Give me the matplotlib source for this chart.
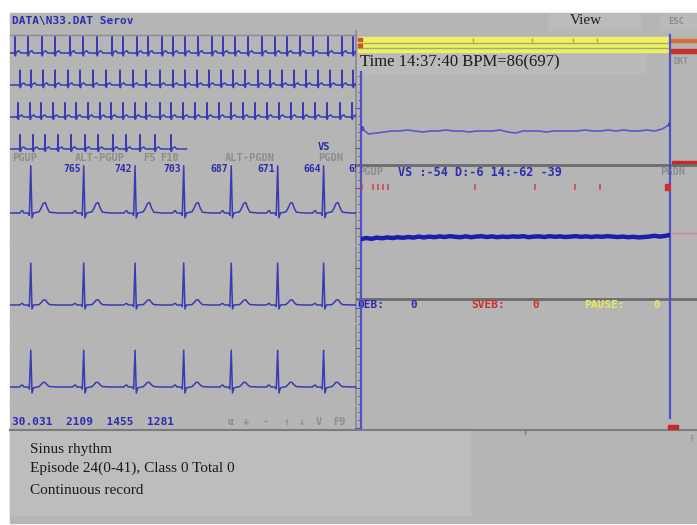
import matplotlib
matplotlib.use("Agg")
import matplotlib.pyplot as plt
from matplotlib.patches import Rectangle
from matplotlib.ticker import MultipleLocator
import numpy as np

# ---- Data -------------------------------------------------------------
# Overview strips: R-peak times (s) in each 20 s row
overview_rows = [
    [0.29, 1.04, 1.85, 2.60, 3.47, 4.22, 5.03, 5.90, 6.53, 7.34, 7.98, 8.79, 9.42,
     10.12, 10.87, 11.68, 12.31, 13.01, 13.76, 14.57, 15.32, 16.01, 16.76, 17.51,
     18.38, 19.19, 19.83],
    [0.58, 1.21, 1.91, 2.60, 3.35, 4.05, 4.80, 5.55, 6.36, 7.11, 7.86, 8.67, 9.42,
     10.12, 10.81, 11.50, 12.20, 12.89, 13.58, 14.34, 15.03, 15.72, 16.42, 17.11,
     17.80, 18.50, 19.19, 19.83],
    [0.46, 1.16, 1.79, 2.49, 3.18, 3.82, 4.51, 5.20, 5.84, 6.53, 7.23, 7.86, 8.67,
     9.31, 10.00, 10.69, 11.39, 12.08, 12.77, 13.47, 14.16, 14.86, 15.55, 16.24,
     16.94, 17.63, 18.32, 19.08, 19.77],
    [0.58, 1.33, 2.02, 2.77, 3.53, 4.34, 5.09, 5.95, 6.71, 7.51, 8.38, 9.31],
]
overview_row_end = [20.0, 20.0, 20.0, 10.2]
overview_amp = [1.25, 1.15, 1.10, 1.10]
overview_tmpl_t = [-0.25, -0.05, -0.02, 0.0, 0.02, 0.05, 0.15, 0.22, 0.30, 0.35]
overview_tmpl_v = [0.0, 0.0, -0.08, 1.0, -0.18, 0.0, 0.10, 0.14, 0.03, 0.0]

# Expanded leads: RR intervals (ms) printed above the beats
first_r_ms = 300
rr_ms = [765, 742, 703, 687, 671, 664, 659]
beat_tmpl_t = [-240, -160, -140, -120, -100, -40, -20, 0, 18, 40, 120, 150, 180, 210, 240, 270, 390]
lead_templates = [
    [0, 0, 0.04, 0.06, 0.0, 0, -0.06, 1.18, -0.12, 0, 0.03, 0.12, 0.24, 0.26, 0.12, 0.02, 0],
    [0, 0, 0.03, 0.04, 0.0, 0, -0.04, 1.05, -0.10, 0, 0.01, 0.06, 0.12, 0.13, 0.06, 0.01, 0],
    [0, 0, 0.04, 0.05, 0.0, 0, -0.05, 0.92, -0.15, -0.02, 0.01, 0.06, 0.12, 0.11, 0.05, 0.01, 0],
]
lead_baselines = [-1.25, -3.55, -5.60]

# Episode trends
hr_trend = [89, 83, 84, 85, 86, 86, 87, 86, 85, 86, 86, 87, 86, 86, 85, 86, 86, 86, 87, 85,
            84, 86, 86, 86, 85, 86, 86, 86, 86, 87, 86, 86, 87, 86, 87, 86, 86, 87, 86, 88, 93]
st_trend = [-0.10, -0.05, -0.09, -0.03, -0.06, -0.02, -0.05, -0.01, -0.04, 0.00, -0.03, 0.02,
            -0.02, 0.02, -0.01, 0.03, 0.00, 0.04, 0.01, -0.01, 0.03, -0.01, 0.02, 0.04, 0.00,
            0.03, -0.01, 0.02, 0.00, 0.03, 0.01, 0.04, -0.01, 0.02, 0.03, 0.00, 0.04, 0.01,
            0.03, 0.00, 0.02, 0.04, 0.01, 0.03, 0.00, 0.03, 0.01, 0.04, 0.02, 0.00, 0.02,
            -0.01, 0.01, -0.02, 0.00, 0.02, 0.06, 0.02, 0.05, 0.10]
event_marks = [0.13, 1.55, 2.2, 2.85, 3.5, 14.8, 22.5, 27.7, 30.9]
episode_len = 40

# ---- Style ------------------------------------------------------------
W, H = 697, 525
BG = "#b5b5b5"
BG_LIGHT = "#bdbdbd"
ECG_BLUE = "#3a3ab6"
TXT_BLUE = "#2c2cae"
TXT_GRAY = "#8d8d8d"
SEP = "#6c6c6c"
MONO = "DejaVu Sans Mono"
SERIF = "Liberation Serif"

fig = plt.figure(figsize=(W / 100, H / 100), dpi=100, facecolor="white")


def px_axes(x0, y0, x1, y1):
    ax = fig.add_axes([x0 / W, 1 - y1 / H, (x1 - x0) / W, (y1 - y0) / H])
    ax.set_facecolor("none")
    return ax


def beat_trace(r_times, tmpl_t, tmpl_v, amp, t_end):
    xs, ys = [0.0], [0.0]
    for r in r_times:
        xs.extend(r + np.asarray(tmpl_t))
        ys.extend(amp * np.asarray(tmpl_v))
    xs.append(t_end)
    ys.append(0.0)
    return np.array(xs), np.array(ys)


# ---- Screen frame (pixel coordinates) ---------------------------------
scr = px_axes(0, 0, W, H)
scr.set_xlim(0, W)
scr.set_ylim(H, 0)
scr.axis("off")

scr.add_patch(Rectangle((10, 13), W - 10, 510, color=BG, zorder=0))
scr.add_patch(Rectangle((548, 14), 92, 16, color="#bbbbbb", zorder=0))
scr.add_patch(Rectangle((660, 14), 37, 16, color="#bababa", zorder=0))
scr.add_patch(Rectangle((357, 53), 288, 20, color="#bababa", zorder=0))
scr.add_patch(Rectangle((10, 431), 460, 84, color=BG_LIGHT, zorder=0))

# separators
scr.plot([10, 356], [35, 35], color="#8c8c8c", lw=1)
scr.plot([356, 356], [31, 429], color="#8a8a8a", lw=1.2)
scr.plot([357, W], [165, 165], color=SEP, lw=2)
scr.plot([357, W], [299, 299], color=SEP, lw=2)
scr.plot([10, W], [429.5, 429.5], color="#7c7c7c", lw=1.5)
scr.plot([525, 525], [430, 434], color="#7c7c7c", lw=1)

# yellow episode band
scr.add_patch(Rectangle((358, 37), 310, 15, color="#eef060", zorder=1))
scr.plot([358, 668], [43, 43], color="#a8a878", lw=1, zorder=2)
scr.plot([358, 668], [47.5, 47.5], color="#a8a878", lw=1, zorder=2)
scr.add_patch(Rectangle((358, 38), 4, 3, color="#d05030", zorder=3))
scr.add_patch(Rectangle((358, 44), 4, 3, color="#d05030", zorder=3))
scr.add_patch(Rectangle((671, 39), 26, 3, color="#d47038", zorder=1))
scr.add_patch(Rectangle((671, 49), 26, 4, color="#c83030", zorder=1))
scr.add_patch(Rectangle((672, 161), 25, 4, color="#c82828", zorder=1))
scr.add_patch(Rectangle((668, 425), 10, 4, color="#c82828", zorder=3))
scr.plot([672, W], [233, 233], color="#d0809a", lw=1)

# cursor line
scr.plot([670, 670], [35, 418], color="#5050c8", lw=1.6, zorder=4)

# ---- Header and key texts ---------------------------------------------
scr.text(12, 21, "DATA\\N33.DAT Serov", color=TXT_BLUE, fontsize=8, family=MONO,
         weight="bold", va="center")
scr.text(570, 21, "View", color="#1e1e1e", fontsize=11, family=SERIF, va="center")
scr.text(668, 21, "ESC", color=TXT_GRAY, fontsize=6.5, family=MONO, weight="bold", va="center")
scr.text(673, 62, "DKT", color=TXT_GRAY, fontsize=6, family=MONO, weight="bold", va="center")
scr.text(360, 62, "Time 14:37:40 BPM=86(697)", color="#1a1a1a", fontsize=12, family=SERIF,
         va="center")

scr.text(318, 147, "VS", color=TXT_BLUE, fontsize=7.5, family=MONO, weight="bold", va="center")
for label, x in [("PGUP", 12), ("ALT-PGUP", 75), ("F5", 143), ("F10", 160),
                 ("ALT-PGDN", 225), ("PGDN", 318)]:
    scr.text(x, 158, label, color=TXT_GRAY, fontsize=7.5, family=MONO, weight="bold",
             va="center")

scr.text(12, 422, "30.031  2109  1455  1281", color=TXT_BLUE, fontsize=8, family=MONO,
         weight="bold", va="center")
for label, x in [("\u03b1", 228), ("+", 243), ("-", 262), ("\u2191", 284), ("\u2193", 299),
                 ("V", 316), ("F9", 333)]:
    scr.text(x, 422, label, color=TXT_GRAY, fontsize=7.5, family=MONO, weight="bold",
             va="center")

scr.text(358, 172, "PGUP", color=TXT_GRAY, fontsize=7.5, family=MONO, weight="bold", va="center")
scr.text(398, 172, "VS :-54 D:-6 14:-62 -39", color=TXT_BLUE, fontsize=8.5, family=MONO,
         weight="bold", va="center")
scr.text(660, 172, "PGDN", color=TXT_GRAY, fontsize=7.5, family=MONO, weight="bold", va="center")

scr.text(358, 305, "OEB:", color=TXT_BLUE, fontsize=8, family=MONO, weight="bold", va="center")
scr.text(410, 305, "0", color=TXT_BLUE, fontsize=8, family=MONO, weight="bold", va="center")
scr.text(471, 305, "SVEB:", color="#cc3030", fontsize=8, family=MONO, weight="bold", va="center")
scr.text(532, 305, "0", color="#cc3030", fontsize=8, family=MONO, weight="bold", va="center")
scr.text(584, 305, "PAUSE:", color="#e8e860", fontsize=8, family=MONO, weight="bold", va="center")
scr.text(653, 305, "0", color="#e8e860", fontsize=8, family=MONO, weight="bold", va="center")
scr.text(690, 440, "F", color=TXT_GRAY, fontsize=6, family=MONO, va="center")

scr.text(30, 449, "Sinus rhythm", color="#1a1a1a", fontsize=11, family=SERIF, va="center")
scr.text(30, 468, "Episode 24(0-41), Class 0 Total 0", color="#1a1a1a", fontsize=11,
         family=SERIF, va="center")
scr.text(30, 491, "Continuous record", color="#1a1a1a", fontsize=11, family=SERIF, va="center")

# ---- Overview strips ----------------------------------------------------
ov = px_axes(10, 33, 356, 153)
ov.set_xlim(0, 20)
ov.set_ylim(-120 / 13, 0)
ov.axis("off")
for k, (r_times, t_end, amp) in enumerate(zip(overview_rows, overview_row_end, overview_amp)):
    xs, ys = beat_trace(r_times, overview_tmpl_t, overview_tmpl_v, amp, t_end)
    ov.plot(xs, ys + (-1.54 - 2.46 * k), color=ECG_BLUE, lw=1.1)

# ---- Expanded leads -----------------------------------------------------
ecg = px_axes(10, 163, 356, 430)
ecg.set_xlim(0, 5000)
ecg.set_ylim(-(430 - 163) / 40, 0)
ecg.axis("off")
for y in [-2.05, -4.0, -4.625, -6.05]:
    ecg.axhline(y, color="#c6c6c6", lw=1, ls=(0, (1, 7)))

r_times = first_r_ms + np.concatenate([[0], np.cumsum(rr_ms)])
for base, tmpl in zip(lead_baselines, lead_templates):
    xs, ys = beat_trace(r_times, beat_tmpl_t, tmpl, 1.0, 5000)
    ecg.plot(xs, ys + base, color=ECG_BLUE, lw=1.1)
for r, rr in zip(r_times[1:], rr_ms):
    ecg.text(r - 45, -0.15, str(rr), color=TXT_BLUE, fontsize=7, family=MONO,
             weight="bold", ha="right", va="center", clip_on=True)

# ---- Right-hand ruler ---------------------------------------------------
ruler = px_axes(361, 72, 362, 428)
ruler.set_ylim(0, 356)
ruler.set_xlim(0, 1)
for s in ["top", "right", "bottom"]:
    ruler.spines[s].set_visible(False)
ruler.spines["left"].set_color("#5050c8")
ruler.spines["left"].set_linewidth(1.6)
ruler.yaxis.set_major_locator(MultipleLocator(40))
ruler.yaxis.set_minor_locator(MultipleLocator(8))
ruler.tick_params(axis="y", which="major", length=4, color="#5050c8", labelleft=False)
ruler.tick_params(axis="y", which="minor", length=2.5, color="#5050c8")
ruler.set_xticks([])

# ---- Heart-rate trend ---------------------------------------------------
hr_ax = px_axes(361, 73, 670, 165)
hr_ax.set_xlim(0, episode_len)
hr_ax.set_ylim(52, 144)
hr_ax.axis("off")
hr_ax.plot(np.arange(len(hr_trend)), hr_trend, color="#5858cc", lw=1.2)
hr_ax.plot([0, episode_len], [hr_trend[0], hr_trend[-1]], ls="none", marker="o", ms=3,
           color="#4848c0")

# ---- ST trend and event marks ---------------------------------------------
st_ax = px_axes(361, 175, 670, 299)
st_ax.set_xlim(0, len(st_trend) - 1)
st_ax.set_ylim(-3, 3)
st_ax.axis("off")
st_ax.plot(np.arange(len(st_trend)), st_trend, color="#1c1cae", lw=3.2,
           solid_joinstyle="miter")

ev_ax = px_axes(361, 183, 670, 191)
ev_ax.set_xlim(0, episode_len)
ev_ax.set_ylim(0, 1)
ev_ax.axis("off")
ev_ax.vlines(event_marks, 0.15, 0.85, color="#d04848", lw=1.2)
ev_ax.plot([episode_len - 0.3], [0.5], marker="s", ms=5, color="#c83030")

band = px_axes(358, 37, 668, 43)
band.set_xlim(0, episode_len)
band.set_ylim(0, 1)
band.axis("off")
band.vlines(event_marks[5:], 0.2, 0.9, color="#c8a040", lw=1)

fig.savefig("out.png", dpi=100, facecolor="white")
